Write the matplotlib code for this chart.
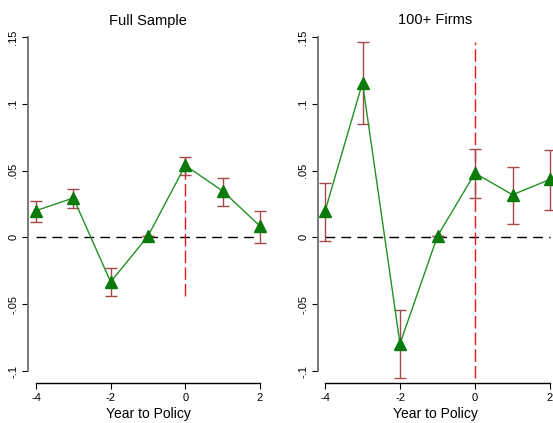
import matplotlib
matplotlib.use("Agg")
import matplotlib.pyplot as plt
import numpy as np

years = [-4, -3, -2, -1, 0, 1, 2]
full_coef = [0.020, 0.0295, -0.0333, 0.001, 0.0539, 0.0347, 0.0085]
full_hi = [0.027, 0.036, -0.0227, 0.001, 0.0604, 0.0444, 0.0197]
full_lo = [0.0115, 0.0217, -0.0442, 0.001, 0.0464, 0.0237, -0.004]
big_coef = [0.0195, 0.1158, -0.0796, 0.001, 0.0481, 0.0319, 0.0434]
big_hi = [0.0406, 0.1462, -0.0544, 0.001, 0.0659, 0.0529, 0.0654]
big_lo = [-0.003, 0.0846, -0.1053, 0.001, 0.0292, 0.010, 0.0204]
titles = ["Full Sample", "100+ Firms"]
yticks = [-0.1, -0.05, 0, 0.05, 0.1, 0.15]
yticklabels = ["-.1", "-.05", "0", ".05", ".1", ".15"]
xticks = [-4, -2, 0, 2]
xticklabels = ["-4", "-2", "0", "2"]

plt.rcParams['font.family'] = ['Liberation Sans', 'DejaVu Sans']
W, H = 553, 423
fig = plt.figure(figsize=(W / 100, H / 100), dpi=100)

panels = [
    (full_coef, full_lo, full_hi, 28, 268, 36, 260),
    (big_coef, big_lo, big_hi, 318, 553, 325, 550),
]
ytop_px, ybot_px, y_hi_px, y_lo_px = 37, 383, 37, 371

for i, (coef, lo, hi, axl, axr, xm4, x2) in enumerate(panels):
    ax = fig.add_axes([axl / W, (H - ybot_px) / H, (axr - axl) / W, (ybot_px - ytop_px) / H])
    ppu = (x2 - xm4) / 6.0
    ax.set_xlim(-4 - (xm4 - axl) / ppu, 2 + (axr - x2) / ppu)
    ppy = (y_lo_px - y_hi_px) / 0.25
    ax.set_ylim(-0.1 - (ybot_px - y_lo_px) / ppy, 0.15)

    ax.plot([-4, 2], [0, 0], color='black', lw=1.0, dashes=(7, 4.5), zorder=1)
    ax.vlines(0, min(lo), max(hi), color='#e3191c', lw=1.0, linestyles=(0, (9, 3)), zorder=1)
    ax.errorbar(years, coef, yerr=[np.array(coef) - np.array(lo), np.array(hi) - np.array(coef)],
                fmt='none', ecolor='#a5484a', elinewidth=1.0, capsize=4, capthick=1.0, zorder=2,
                clip_on=False)
    ax.plot(years, coef, color='#229122', lw=1.0, marker='^', markersize=8,
            markerfacecolor='#0b7a0b', markeredgecolor='#0b7a0b', zorder=3, clip_on=False)

    for s in ['top', 'right']:
        ax.spines[s].set_visible(False)
    ax.spines['left'].set_bounds(-0.1, 0.15)
    ax.spines['left'].set_color('#707070')
    ax.spines['left'].set_linewidth(1.3)
    ax.spines['bottom'].set_bounds(-4, 2)
    ax.spines['bottom'].set_linewidth(1.0)
    ax.set_yticks(yticks)
    ax.set_yticklabels(yticklabels, rotation=90, va='center', fontsize=8)
    ax.set_xticks(xticks)
    ax.set_xticklabels(xticklabels, fontsize=8)
    ax.tick_params(axis='y', length=4, width=0.8, pad=3)
    ax.tick_params(axis='x', length=4, width=0.8, pad=3)
    ax.set_xlabel("Year to Policy", fontsize=10, labelpad=3)
    ax.set_title(titles[i], fontsize=10.5, pad=9)
    ax.patch.set_visible(False)

fig.savefig("out.png", dpi=100)
